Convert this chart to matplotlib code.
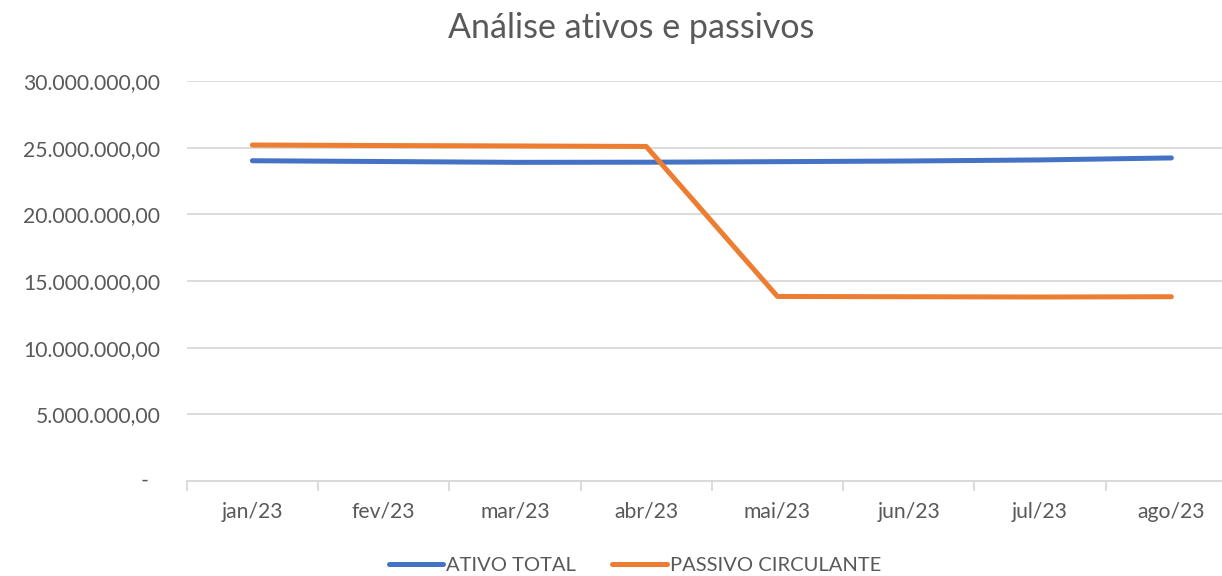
import matplotlib
matplotlib.use("Agg")
import matplotlib.pyplot as plt
from matplotlib.ticker import FixedLocator
import matplotlib.transforms as mtransforms

categories = ["jan/23", "fev/23", "mar/23", "abr/23", "mai/23", "jun/23", "jul/23", "ago/23"]
ativo_total = [24.02e6, 23.96e6, 23.90e6, 23.91e6, 23.95e6, 24.00e6, 24.08e6, 24.23e6]
passivo_circulante = [25.20e6, 25.16e6, 25.13e6, 25.09e6, 13.84e6, 13.82e6, 13.80e6, 13.82e6]
series_names = ["ATIVO TOTAL", "PASSIVO CIRCULANTE"]
y_ticks = [0, 5e6, 10e6, 15e6, 20e6, 25e6, 30e6]

plt.rcParams['font.family'] = ['Lato', 'DejaVu Sans']
TXT = "#595959"
GRID = "#D9D9D9"

fig = plt.figure(figsize=(12.22, 5.76), dpi=100)
ax = fig.add_axes([186.7/1222, 1-481/576, (1237-186.7)/1222, 400/576])

x = list(range(len(categories)))
ax.plot(x, ativo_total, color="#4472C4", lw=3.6, solid_capstyle="round", solid_joinstyle="round", label=series_names[0], zorder=3)
ax.plot(x, passivo_circulante, color="#ED7D31", lw=3.6, solid_capstyle="round", solid_joinstyle="round", label=series_names[1], zorder=3)

ax.set_xlim(-0.5, len(categories) - 0.5)
ax.set_ylim(0, 30e6)

def fmt(v):
    s = f"{v:,.2f}"
    return s.replace(",", "X").replace(".", ",").replace("X", ".")

ax.set_yticks(y_ticks)
ax.set_yticklabels([fmt(v) if v != 0 else "" for v in y_ticks], fontsize=15.2, color=TXT)
ax.tick_params(axis='y', length=0, pad=19)
ax.grid(axis='y', color=GRID, lw=1.3, zorder=0)

ax.set_xticks(x)
ax.set_xticklabels(categories, fontsize=15.2, color=TXT)
ax.tick_params(axis='x', which='major', length=0, pad=15)
ax.xaxis.set_minor_locator(FixedLocator([i - 0.5 for i in range(len(categories) + 1)]))
ax.tick_params(axis='x', which='minor', length=7, width=1.3, color=GRID, direction='out')

for s in ["top", "right", "left"]:
    ax.spines[s].set_visible(False)
ax.spines["bottom"].set_color(GRID)
ax.spines["bottom"].set_linewidth(1.3)

trans = mtransforms.blended_transform_factory(ax.transAxes, ax.transData)
ax.text(-38/1050, 0, "-", transform=trans, ha="right", va="center", fontsize=15.2, color=TXT)

fig.text(631/1222, 1-28/576, "Análise ativos e passivos", ha="center", va="center", fontsize=24.5, color=TXT)

fig.legend(loc="center", bbox_to_anchor=(635/1222, 1-565/576), ncol=2, frameon=False,
           fontsize=14.5, handlelength=2.7, handletextpad=0.15, columnspacing=1.8, labelcolor=TXT)

fig.savefig("out.png", dpi=100)
